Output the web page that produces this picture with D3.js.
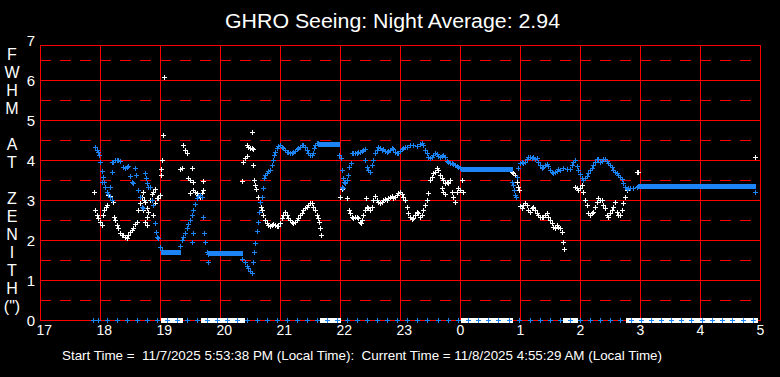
<!DOCTYPE html>
<html>
<head>
<meta charset="utf-8">
<script src="https://cdn.jsdelivr.net/npm/d3@7"></script>
<style>
    html, body { margin: 0; padding: 0; background: #000; }
    svg { display: block; font-family: "Liberation Sans", Arial, sans-serif; }
    .label { fill: #fff; white-space: pre; }
</style>
</head>
<body>
<div id="seeing-chart"></div>
<script>
// time is minutes after 17:00 local, values are FWHM in arcsec
const hourLabels = ['17', '18', '19', '20', '21', '22', '23', '0', '1', '2', '3', '4', '5']
const yTicks = [0, 1, 2, 3, 4, 5, 6, 7]
const sideLabel = ['F', 'W', 'H', 'M', '', 'A', 'T', '', 'Z', 'E', 'N', 'I', 'T', 'H', '(")']

const whiteT = [54, 55, 57, 58, 60, 62, 63, 64, 66, 67, 68, 70, 72, 73, 74, 75, 77, 78, 80, 82, 83, 85, 87, 88, 90, 92, 93, 95, 97, 98,
    100, 102, 103, 104, 103, 105, 105, 107, 107, 107, 108, 110, 112, 113, 113, 115, 115, 117, 118, 120, 121, 121, 122, 123, 124,
    140, 142, 143, 145, 147, 148, 150, 150, 152, 153, 153, 155, 157, 158, 160, 162, 163, 163,
    202, 203, 205, 207, 207, 208, 210, 212, 212, 213, 213, 214, 215, 216, 218, 220, 221, 222, 223, 225, 227, 228, 230, 232, 233, 235, 237, 238,
    240, 242, 243, 245, 247, 248, 250, 252, 253, 255, 257, 258, 260, 262, 263, 265, 267, 268, 270, 272, 273, 275, 277, 278, 279, 280, 281,
    300, 302, 307, 309, 310, 312, 313, 315, 317, 318, 320, 321, 322, 323, 325, 326, 327, 328, 330, 332, 333, 335, 337, 338,
    340, 342, 343, 345, 347, 348, 350, 352, 353, 355, 357, 358, 360, 362, 363, 365, 367, 368, 370, 372, 373, 375, 377, 378,
    380, 382, 383, 385, 387, 388, 390, 392, 393, 395, 397, 398, 400, 402, 402, 403, 403, 405, 405, 407, 408, 410, 412, 413, 415, 417, 418, 420, 422, 423,
    472, 473, 475, 476, 477, 478, 479, 480, 482, 483, 485, 487, 488, 490, 492, 493, 495, 497, 498, 500, 502, 503, 505, 507, 508, 510, 512, 513, 515, 517, 518, 520, 522, 523, 524,
    535, 537, 538, 540, 542, 543, 545, 547, 548, 550, 552, 553, 555, 557, 558, 560, 562, 563, 565, 567, 568, 570, 572, 573, 575, 577, 578, 580, 582, 583, 585, 587,
    597, 598, 715]
const whiteV = [3.19, 2.75, 2.62, 2.54, 2.45, 2.38, 2.62, 2.75, 2.83, 2.88, 3.12, 3.09, 3.0, 2.95, 2.58, 2.5, 2.38, 2.29, 2.17, 2.13, 2.12, 2.08, 2.06, 2.12, 2.21, 2.26, 2.31, 2.4, 2.44, 2.75,
    2.92, 3.08, 3.21, 3.0, 2.75, 2.96, 2.46, 2.79, 2.58, 2.38, 2.71, 3.0, 3.14, 3.21, 2.62, 3.28, 2.92, 3.06, 3.04, 3.12, 3.63, 3.77, 4.01, 4.62, 6.08,
    3.77, 3.79, 4.38, 4.25, 4.17, 3.54, 3.5, 3.17, 3.79, 3.46, 3.25, 3.21, 3.17, 3.12, 3.08, 3.17, 3.25, 3.48,
    3.47, 3.95, 4.04, 4.1, 4.38, 4.33, 4.31, 4.29, 4.71, 4.27, 3.88, 3.49, 3.37, 3.27, 3.08, 2.96, 2.83, 2.75, 2.62, 2.5, 2.42, 2.38, 2.35, 2.38, 2.4, 2.38, 2.35, 2.35,
    2.42, 2.54, 2.62, 2.71, 2.62, 2.54, 2.5, 2.46, 2.43, 2.46, 2.5, 2.54, 2.62, 2.67, 2.75, 2.79, 2.83, 2.88, 2.92, 2.92, 2.83, 2.75, 2.62, 2.54, 2.46, 2.29, 2.12,
    3.07, 3.27, 3.04, 2.75, 2.67, 2.58, 2.54, 2.57, 2.58, 2.54, 2.46, 2.42, 2.5, 2.62, 2.75, 3.04, 2.83, 2.79, 2.75, 2.83, 3.0, 3.09, 3.0, 2.96,
    2.93, 2.96, 3.0, 3.02, 3.0, 3.04, 3.08, 3.1, 3.04, 3.08, 3.12, 3.17, 3.19, 3.15, 3.08, 3.0, 2.83, 2.67, 2.58, 2.52, 2.54, 2.62, 2.71, 2.67,
    2.58, 2.62, 2.75, 2.88, 3.0, 3.17, 3.5, 3.58, 3.67, 3.71, 3.79, 3.75, 3.62, 3.54, 3.29, 3.5, 3.21, 3.42, 3.15, 3.46, 3.42, 3.5, 3.21, 3.08, 2.96, 3.21, 3.29, 3.25, 3.5, 3.21,
    3.71, 3.67, 3.62, 3.08, 3.46, 3.33, 3.25, 2.85, 2.79, 2.88, 2.92, 2.88, 2.75, 2.71, 2.79, 2.82, 2.75, 2.68, 2.62, 2.58, 2.57, 2.58, 2.62, 2.68, 2.58, 2.5, 2.42, 2.33, 2.29, 2.38, 2.33, 2.29, 2.21, 1.96, 1.77,
    3.33, 3.29, 3.25, 3.29, 3.37, 3.21, 3.0, 2.88, 2.67, 2.62, 2.67, 2.71, 2.83, 2.96, 3.04, 3.0, 3.0, 2.88, 2.79, 2.62, 2.58, 2.67, 2.75, 2.83, 2.96, 2.71, 2.62, 2.62, 2.75, 2.92, 3.08, 3.25,
    3.69, 3.69, 4.07]

const blueT = [55, 57, 58, 59, 60, 62, 62, 63, 64, 65, 67, 68, 70, 70, 72, 72, 72, 73, 75, 77, 78, 80, 83, 85, 87, 88, 90, 92, 93, 95, 96, 98,
    100, 102, 103, 105, 106, 107, 108, 110, 112, 113, 115, 116, 117, 118, 120, 122,
    140, 142, 143, 145, 147, 148, 150, 152, 152, 153, 153, 155, 157, 158, 160, 162, 163, 164, 165, 167, 168, 168,
    202, 205, 207, 208, 210, 212, 213, 214, 215, 217, 218, 219, 220, 222, 223, 224, 225, 227, 228, 230, 232, 233, 234, 235, 237, 238,
    240, 242, 243, 245, 247, 248, 250, 252, 253, 255, 257, 258, 260, 262, 263, 265, 267, 268, 270, 272, 273, 274, 275, 277, 278,
    299, 301, 302, 302, 303, 303, 304, 305, 307, 308, 309, 311, 312, 313, 315, 317, 318, 320, 322, 323, 325, 325, 327, 328, 330, 332, 333, 335, 337, 338,
    340, 342, 343, 345, 347, 348, 350, 352, 353, 355, 357, 358, 360, 362, 363, 365, 367, 370, 373, 377, 380, 382, 383, 385, 387, 388, 390, 392, 393, 395, 397, 398,
    400, 402, 403, 405, 407, 408, 410, 412, 413, 415, 417, 418, 420,
    472, 473, 474, 475, 476, 477, 478, 480, 482, 483, 485, 487, 488, 490, 492, 493, 495, 497, 498, 500, 502, 503, 505, 507, 508, 510, 512, 513, 515, 517, 518, 520, 523, 527, 530,
    532, 533, 535, 537, 538, 540, 542, 543, 545, 547, 548, 550, 552, 553, 555, 557, 558, 560, 562, 563, 565, 567, 568, 570, 572, 573, 575, 577, 578, 580, 582, 583, 585, 587, 588, 590, 593, 597, 598,
    715]
const blueV = [4.33, 4.25, 4.2, 4.12, 3.96, 3.73, 3.46, 3.58, 3.46, 3.33, 3.21, 3.15, 3.08, 3.33, 3.0, 3.7, 3.96, 3.96, 4.0, 4.0, 4.0, 3.98, 3.83, 3.8, 3.82, 3.86, 3.6, 3.46, 3.43, 3.8, 3.62, 3.25,
    3.08, 2.83, 2.79, 3.67, 3.54, 3.42, 3.32, 3.32, 3.0, 2.88, 2.43, 2.21, 2.08, 2.04, 1.83, 1.75,
    1.85, 2.0, 2.08, 2.17, 2.3, 2.4, 2.5, 2.62, 1.96, 2.75, 2.17, 2.9, 3.05, 3.1, 3.12, 3.08, 2.58, 2.17, 1.96, 1.71, 1.65, 1.46,
    1.52, 1.45, 1.36, 1.29, 1.22, 1.17, 1.44, 1.71, 1.92, 2.22, 2.46, 2.71, 2.96, 3.08, 3.29, 3.54, 3.62, 3.68, 3.73, 3.75, 3.88, 4.0, 4.12, 4.21, 4.29, 4.35,
    4.38, 4.33, 4.29, 4.25, 4.21, 4.21, 4.18, 4.18, 4.21, 4.23, 4.27, 4.31, 4.33, 4.38, 4.38, 4.33, 4.25, 4.17, 4.12, 4.12, 4.17, 4.29, 4.38, 4.42, 4.43,
    4.12, 4.04, 3.75, 3.33, 3.54, 3.29, 3.46, 3.42, 3.5, 3.62, 3.83, 3.92, 4.17, 4.18, 4.17, 4.18, 4.21, 4.21, 4.23, 4.25, 4.27, 4.0, 3.83, 3.75, 3.71, 3.88, 4.0, 4.17, 4.25, 4.33,
    4.29, 4.25, 4.27, 4.23, 4.21, 4.23, 4.25, 4.29, 4.27, 4.21, 4.17, 4.18, 4.23, 4.27, 4.29, 4.32, 4.33, 4.38, 4.38, 4.35, 4.4, 4.42, 4.38, 4.25, 4.17, 4.08, 4.04, 4.07, 4.12, 4.17, 4.15, 4.1,
    4.08, 4.1, 4.12, 4.07, 3.98, 3.96, 3.93, 3.92, 3.9, 3.88, 3.85, 3.82, 3.79,
    3.46, 3.38, 3.25, 3.12, 3.07, 3.58, 3.79, 3.93, 3.96, 3.92, 3.96, 4.02, 4.07, 4.08, 4.04, 4.07, 4.02, 4.04, 3.96, 3.88, 3.79, 3.83, 3.88, 3.89, 3.85, 3.75, 3.71, 3.68, 3.71, 3.73, 3.77, 3.75, 3.79, 3.77, 3.77,
    3.88, 3.96, 4.0, 3.86, 3.75, 3.65, 3.54, 3.5, 3.54, 3.61, 3.68, 3.74, 3.79, 3.88, 3.96, 4.02, 4.02, 3.96, 3.98, 4.02, 4.02, 3.98, 3.93, 3.88, 3.82, 3.75, 3.71, 3.68, 3.62, 3.57, 3.52, 3.42, 3.33, 3.27, 3.29, 3.29, 3.29, 3.33, 3.35,
    3.21]

// stretches where the blue reading stayed at the same value
const blueHoldStart = [123, 170, 280, 423, 600]
const blueHoldEnd = [138, 200, 297, 470, 713]
const blueHoldValue = [1.71, 1.67, 4.39, 3.77, 3.35]

// stretches where the white reading was zero
const whiteZeroStart = [123, 163, 282, 423, 525, 588, 600]
const whiteZeroEnd = [140, 202, 298, 470, 535, 595, 715]

const blueZeroT = [53, 58, 67, 77, 87, 97, 107, 117, 127, 137, 147, 157, 167, 177, 187, 197, 207, 217, 227, 237, 247, 257, 267, 277,
    287, 297, 307, 317, 327, 337, 347, 357, 367, 377, 387, 398, 408, 418, 428, 438, 448, 458, 469, 479, 490, 500, 510, 520, 530,
    540, 550, 560, 570, 580, 591, 601, 611, 621, 631, 641, 651, 662, 672, 682, 692, 703, 713]

class SeeingChart {
    constructor() {
        this.DIMENSIONS = {
            width: 780,
            height: 377,
            left: 40,
            right: 760,
            top: 45,
            bottom: 320
        }
        this.white = whiteT.map((t, i) => ({ t: t, v: whiteV[i] }))
        this.blue = blueT.map((t, i) => ({ t: t, v: blueV[i] }))
        this.holds = blueHoldStart.map((s, i) => ({ s: s, e: blueHoldEnd[i], v: blueHoldValue[i] }))
        this.zeros = whiteZeroStart.map((s, i) => ({ s: s, e: whiteZeroEnd[i] }))

        this.initializeSVG()
        this.createScales()
        this.createGrid()
        this.createAxisLabels()
        this.update()
    }

    initializeSVG() {
        this.svg = d3.select('#seeing-chart').append('svg')
            .attr('width', this.DIMENSIONS.width)
            .attr('height', this.DIMENSIONS.height)
        this.svg.append('rect')
            .attr('width', this.DIMENSIONS.width)
            .attr('height', this.DIMENSIONS.height)
            .attr('fill', '#000')
    }

    createScales() {
        this.xScale = d3.scaleLinear()
            .domain([0, (hourLabels.length - 1) * 60])
            .range([this.DIMENSIONS.left, this.DIMENSIONS.right])
        this.yScale = d3.scaleLinear()
            .domain([0, 7])
            .range([this.DIMENSIONS.bottom, 40])
    }

    createGrid() {
        let grid = this.svg.append('g')
            .attr('stroke', '#ff0000')
            .attr('stroke-width', 1)
            .attr('shape-rendering', 'crispEdges')

        grid.selectAll('.v-line')
            .data(hourLabels)
            .join('line')
            .attr('class', 'v-line')
            .attr('x1', (d, i) => Math.round(this.xScale(i * 60)) + 0.5)
            .attr('x2', (d, i) => Math.round(this.xScale(i * 60)) + 0.5)
            .attr('y1', this.DIMENSIONS.top)
            .attr('y2', this.DIMENSIONS.bottom)

        grid.selectAll('.h-line')
            .data(yTicks.slice(0, -1))
            .join('line')
            .attr('class', 'h-line')
            .attr('x1', this.DIMENSIONS.left)
            .attr('x2', this.DIMENSIONS.right + 1)
            .attr('y1', d => Math.round(this.yScale(d)) + 0.5)
            .attr('y2', d => Math.round(this.yScale(d)) + 0.5)

        grid.append('line')
            .attr('x1', this.DIMENSIONS.left)
            .attr('x2', this.DIMENSIONS.right + 1)
            .attr('y1', this.DIMENSIONS.top + 0.5)
            .attr('y2', this.DIMENSIONS.top + 0.5)

        grid.selectAll('.dash-line')
            .data(yTicks.slice(0, -1))
            .join('line')
            .attr('class', 'dash-line')
            .attr('x1', this.DIMENSIONS.left)
            .attr('x2', this.DIMENSIONS.right)
            .attr('y1', d => Math.round(this.yScale(d + 0.5)) + 0.5)
            .attr('y2', d => Math.round(this.yScale(d + 0.5)) + 0.5)
            .attr('stroke-dasharray', '11,9')
    }

    createAxisLabels() {
        this.svg.append('text')
            .attr('class', 'label')
            .attr('x', 225)
            .attr('y', 28)
            .attr('textLength', 335)
            .attr('lengthAdjust', 'spacingAndGlyphs')
            .style('font-size', '19.5px')
            .text('GHRO Seeing: Night Average: 2.94')

        this.svg.selectAll('.x-tick')
            .data(hourLabels)
            .join('text')
            .attr('class', 'label x-tick')
            .attr('x', (d, i) => this.xScale(i * 60) - 3.5)
            .attr('y', 335)
            .style('font-size', '14px')
            .text(d => d)

        this.svg.selectAll('.y-tick')
            .data(yTicks)
            .join('text')
            .attr('class', 'label y-tick')
            .attr('x', 35)
            .attr('y', d => this.yScale(d) + 5.5)
            .attr('text-anchor', 'end')
            .style('font-size', '15px')
            .text(d => d)

        this.svg.selectAll('.side-letter')
            .data(sideLabel)
            .join('text')
            .attr('class', 'label side-letter')
            .attr('x', 12)
            .attr('y', (d, i) => 59.5 + i * 18)
            .attr('text-anchor', 'middle')
            .style('font-size', '16px')
            .text(d => d)

        this.svg.append('text')
            .attr('class', 'label')
            .attr('x', 62)
            .attr('y', 360)
            .attr('textLength', 600)
            .attr('lengthAdjust', 'spacingAndGlyphs')
            .style('font-size', '13.5px')
            .text('Start Time =  11/7/2025 5:53:38 PM (Local Time):  Current Time = 11/8/2025 4:55:29 AM (Local Time)')
    }

    plusMarks(layer, data, color) {
        layer.selectAll('path')
            .data(data)
            .join('path')
            .attr('transform', d => `translate(${Math.round(this.xScale(d.t))}, ${Math.round(this.yScale(d.v))})`)
            .attr('d', 'M-2,0.5H3M0.5,-2V3')
            .attr('stroke', color)
            .attr('fill', 'none')
    }

    update() {
        let white = '#ffffff'
        let blue = '#1c84f4'

        // white series, zero stretches first
        let whiteLayer = this.svg.append('g').attr('shape-rendering', 'crispEdges')
        whiteLayer.selectAll('.zero-run')
            .data(this.zeros)
            .join('rect')
            .attr('class', 'zero-run')
            .attr('x', d => Math.round(this.xScale(d.s)) - 2)
            .attr('width', d => Math.round(this.xScale(d.e)) - Math.round(this.xScale(d.s)) + 5)
            .attr('y', Math.round(this.yScale(0)) - 2)
            .attr('height', 5)
            .attr('fill', white)
        this.plusMarks(whiteLayer.append('g'), this.white, white)

        // blue series
        let blueLayer = this.svg.append('g').attr('shape-rendering', 'crispEdges')
        blueLayer.selectAll('.hold-run')
            .data(this.holds)
            .join('rect')
            .attr('class', 'hold-run')
            .attr('x', d => Math.round(this.xScale(d.s)) - 2)
            .attr('width', d => Math.round(this.xScale(d.e)) - Math.round(this.xScale(d.s)) + 5)
            .attr('y', d => Math.round(this.yScale(d.v)) - 2)
            .attr('height', 5)
            .attr('fill', blue)
        this.plusMarks(blueLayer.append('g'), this.blue, blue)
        this.plusMarks(blueLayer.append('g'), blueZeroT.map(t => ({ t: t, v: 0 })), blue)
    }
}

new SeeingChart()
</script>
</body>
</html>
